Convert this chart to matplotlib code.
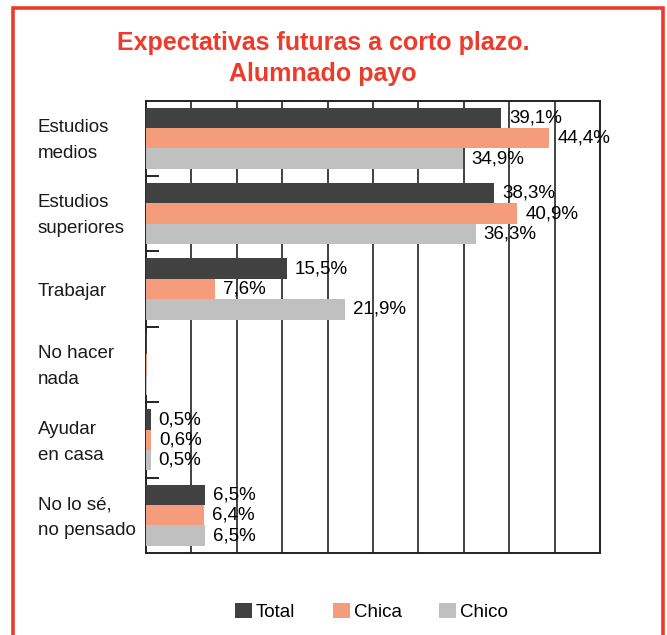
import matplotlib.pyplot as plt
from matplotlib.patches import Rectangle
import numpy as np

categories = ["Estudios\nmedios", "Estudios\nsuperiores", "Trabajar",
              "No hacer\nnada", "Ayudar\nen casa", "No lo sé,\nno pensado"]
series = ["Total", "Chica", "Chico"]
total = [39.1, 38.3, 15.5, 0.1, 0.5, 6.5]
chica = [44.4, 40.9, 7.6, 0.1, 0.6, 6.4]
chico = [34.9, 36.3, 21.9, 0.1, 0.5, 6.5]
labels_total = ["39,1%", "38,3%", "15,5%", "", "0,5%", "6,5%"]
labels_chica = ["44,4%", "40,9%", "7,6%", "", "0,6%", "6,4%"]
labels_chico = ["34,9%", "36,3%", "21,9%", "", "0,5%", "6,5%"]

colors = ["#414141", "#F59C7D", "#C0C0C0"]
red = "#EE3A2B"
plt.rcParams['font.family'] = ["Liberation Sans", "DejaVu Sans"]

fig = plt.figure(figsize=(6.67, 6.35), dpi=100)

# red frame around the whole panel (runs off the bottom edge)
fig.patches.append(Rectangle((13 / 667, -0.05), (663 - 13) / 667, 1 - 8 / 635 + 0.05,
                             transform=fig.transFigure, fill=False,
                             edgecolor=red, linewidth=2.6))

fig.text(0.484, 1 - 43 / 635, "Expectativas futuras a corto plazo.", ha='center', va='center',
         color=red, fontsize=18, fontweight='bold')
fig.text(0.484, 1 - 74 / 635, "Alumnado payo", ha='center', va='center',
         color=red, fontsize=18, fontweight='bold')

ax = fig.add_axes([146 / 667, 1 - 553 / 635, (600 - 146) / 667, (553 - 100.5) / 635])

n = len(categories)
y = np.arange(n)
h = 0.27
all_vals = [total, chica, chico]
all_labels = [labels_total, labels_chica, labels_chico]
for k, (vals, labs) in enumerate(zip(all_vals, all_labels)):
    pos = y + (k - 1) * h
    ax.barh(pos, vals, height=h, color=colors[k], label=series[k], zorder=3)
    for p, v, t in zip(pos, vals, labs):
        if t:
            ax.text(v + 0.9, p, t, va='center', ha='left', fontsize=13.5,
                    color='black', zorder=4)

ax.set_xlim(0, 50)
ax.set_ylim(n - 0.5, -0.5)
ax.set_xticks(np.arange(0, 51, 5))
for xv in np.arange(5, 50, 5):
    ax.axvline(xv, color='#222222', linewidth=1.2, zorder=1)
ax.tick_params(axis='x', length=0, labelbottom=False)
ax.set_yticks(np.arange(0.5, n - 0.5, 1))
ax.tick_params(axis='y', direction='in', length=9, width=1.2, labelleft=False)
for s in ax.spines.values():
    s.set_linewidth(1.4)
    s.set_color('#222222')

for i, c in enumerate(categories):
    ax.text(-0.238, i + 0.03, c, transform=ax.get_yaxis_transform(), ha='left', va='center',
            fontsize=13.5, color='#1a1a1a', linespacing=1.7)

handles, lbls = ax.get_legend_handles_labels()
fig.legend(handles, lbls, loc='center', bbox_to_anchor=(0.557, 1 - 612 / 635), ncol=3,
           frameon=False, fontsize=13.5, handlelength=0.9, handleheight=0.9,
           handletextpad=0.2, columnspacing=2.0)

fig.savefig("out.png", dpi=100)
